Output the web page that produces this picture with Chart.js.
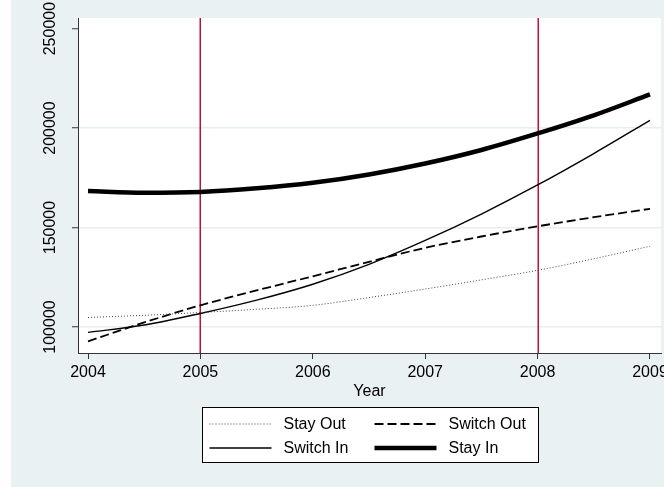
<!DOCTYPE html>
<html>
<head>
<meta charset="utf-8">
<script src="https://cdn.jsdelivr.net/npm/chart.js@4/dist/chart.umd.min.js"></script>
<style>
  html, body { margin: 0; padding: 0; background: #fff; }
  canvas { display: block; }
</style>
</head>
<body>
<canvas id="chart" width="664" height="487"></canvas>
<script>
// valores (meio em meio ano)
var years     = [2004, 2004.5, 2005, 2005.5, 2006, 2006.5, 2007, 2007.5, 2008, 2008.5, 2009];
var stayOut   = [104800, 105900, 107300, 108900, 110900, 114800, 119100, 123700, 128500, 134300, 140600];
var switchOut = [92800, 102300, 110900, 118400, 125500, 132800, 139800, 145500, 150600, 155200, 159400];
var switchIn  = [97300, 101000, 106800, 113500, 121500, 131500, 143500, 156800, 171400, 187200, 203900];
var stayIn    = [168400, 167500, 167900, 169700, 172500, 176700, 182200, 189000, 197300, 206400, 216900];

var yearTicks  = [2004, 2005, 2006, 2007, 2008, 2009];
var valueTicks = [100000, 150000, 200000, 250000];
var refYears   = [2005, 2008];   // linhas verticais vermelhas

var BG_COLOR   = "#eaf1f3";
var GRID_COLOR = "#e6eef1";
var AXIS_COLOR = "#333";
var REF_COLOR  = "#c0103a";

Chart.defaults.font.family = "'Liberation Sans', Arial, sans-serif";
Chart.defaults.font.size = 16;
Chart.defaults.color = "#000";

function _pts(vals) {
  return years.map(function(x, i) { return { x: x, y: vals[i] }; });
}

function _lineDs(label, vals, width, dash, color) {
  return {
    label: label,
    data: _pts(vals),
    borderColor: color || "#000",
    borderWidth: width,
    borderDash: dash,
    pointRadius: 0,
    fill: false,
    cubicInterpolationMode: "monotone"
  };
}

// fundo do gráfico (região cinza-azulada + área branca)
var bgPlugin = {
  id: "bg",
  beforeDraw: function(chart) {
    var c = chart.ctx, a = chart.chartArea;
    c.save();
    c.fillStyle = BG_COLOR;
    c.fillRect(11, 0, chart.width - 11, chart.height);
    c.fillStyle = "#fff";
    c.fillRect(a.left, a.top, a.right - a.left, a.bottom - a.top);
    c.restore();
  }
};

// linhas de referência verticais
var refLinesPlugin = {
  id: "refLines",
  beforeDatasetsDraw: function(chart) {
    var c = chart.ctx, a = chart.chartArea, xs = chart.scales.x;
    c.save();
    c.strokeStyle = REF_COLOR;
    c.lineWidth = 1.5;
    refYears.forEach(function(yr) {
      var px = Math.round(xs.getPixelForValue(yr)) + 0.25;
      c.beginPath();
      c.moveTo(px, a.top);
      c.lineTo(px, a.bottom);
      c.stroke();
    });
    c.restore();
  }
};

// legenda em caixa, 2 colunas
var boxLegendPlugin = {
  id: "boxLegend",
  afterDraw: function(chart) {
    var c = chart.ctx, a = chart.chartArea;
    var w = 336, h = 55, top = 407;
    var left = Math.round((a.left + a.right) / 2 - w / 2) + 0.5;
    c.save();
    c.fillStyle = "#fff";
    c.fillRect(left, top + 0.5, w, h);
    c.strokeStyle = "#000";
    c.lineWidth = 1;
    c.strokeRect(left, top + 0.5, w, h);

    var colX = [left + 7, left + 172];
    var rowY = [424, 448];
    c.font = "16px 'Liberation Sans', Arial, sans-serif";
    c.textBaseline = "middle";
    c.textAlign = "left";
    chart.data.datasets.forEach(function(ds, i) {
      var x0 = colX[i % 2], y0 = rowY[Math.floor(i / 2)];
      c.strokeStyle = ds.borderColor;
      c.lineWidth = ds.borderWidth;
      c.setLineDash(ds.borderDash || []);
      c.beginPath();
      c.moveTo(x0, y0);
      c.lineTo(x0 + 62, y0);
      c.stroke();
      c.setLineDash([]);
      c.fillStyle = "#000";
      c.fillText(ds.label, x0 + 74, y0 + 1);
    });
    c.restore();
  }
};

new Chart(document.getElementById("chart"), {
  type: "line",
  data: {
    datasets: [
      _lineDs("Stay Out",   stayOut,   1,   [1, 2], "#444"),
      _lineDs("Switch Out", switchOut, 1.8, [9, 4]),
      _lineDs("Switch In",  switchIn,  1.4, []),
      _lineDs("Stay In",    stayIn,    4.5, [])
    ]
  },
  options: {
    responsive: false,
    devicePixelRatio: 1,
    animation: false,
    layout: { padding: { left: 0, top: 18, right: 3, bottom: 86 } },
    plugins: {
      legend: { display: false },
      tooltip: { enabled: false }
    },
    scales: {
      x: {
        type: "linear",
        min: 2003.911,
        max: 2009.098,
        afterBuildTicks: function(s) { s.ticks = yearTicks.map(function(v) { return { value: v }; }); },
        afterFit: function(s) { s.height = 48; s.paddingLeft = 0; s.paddingRight = 0; },
        ticks: {
          padding: 4, maxRotation: 0, autoSkip: false,
          callback: function(v) { return String(v); }
        },
        grid: { drawOnChartArea: false, tickLength: 6, tickColor: AXIS_COLOR, tickWidth: 1 },
        border: { color: AXIS_COLOR, width: 1 },
        title: { display: true, text: "Year", padding: { top: 0, bottom: 0 }, font: { size: 16 } }
      },
      y: {
        type: "linear",
        min: 86943,
        max: 255323,
        afterBuildTicks: function(s) { s.ticks = valueTicks.map(function(v) { return { value: v }; }); },
        afterFit: function(s) { s.width = 78; s.paddingTop = 0; s.paddingBottom = 0; },
        ticks: {
          minRotation: 90, maxRotation: 90, crossAlign: "center", padding: -5,
          callback: function(v) { return String(v); }
        },
        grid: {
          color: function(ctx) {
            return ctx.tick && ctx.tick.value >= valueTicks[valueTicks.length - 1] ? "rgba(0,0,0,0)" : GRID_COLOR;
          },
          lineWidth: 1.5,
          tickLength: 6, tickColor: AXIS_COLOR, tickWidth: 1
        },
        border: { color: AXIS_COLOR, width: 1 }
      }
    }
  },
  plugins: [bgPlugin, refLinesPlugin, boxLegendPlugin]
});
</script>
</body>
</html>
